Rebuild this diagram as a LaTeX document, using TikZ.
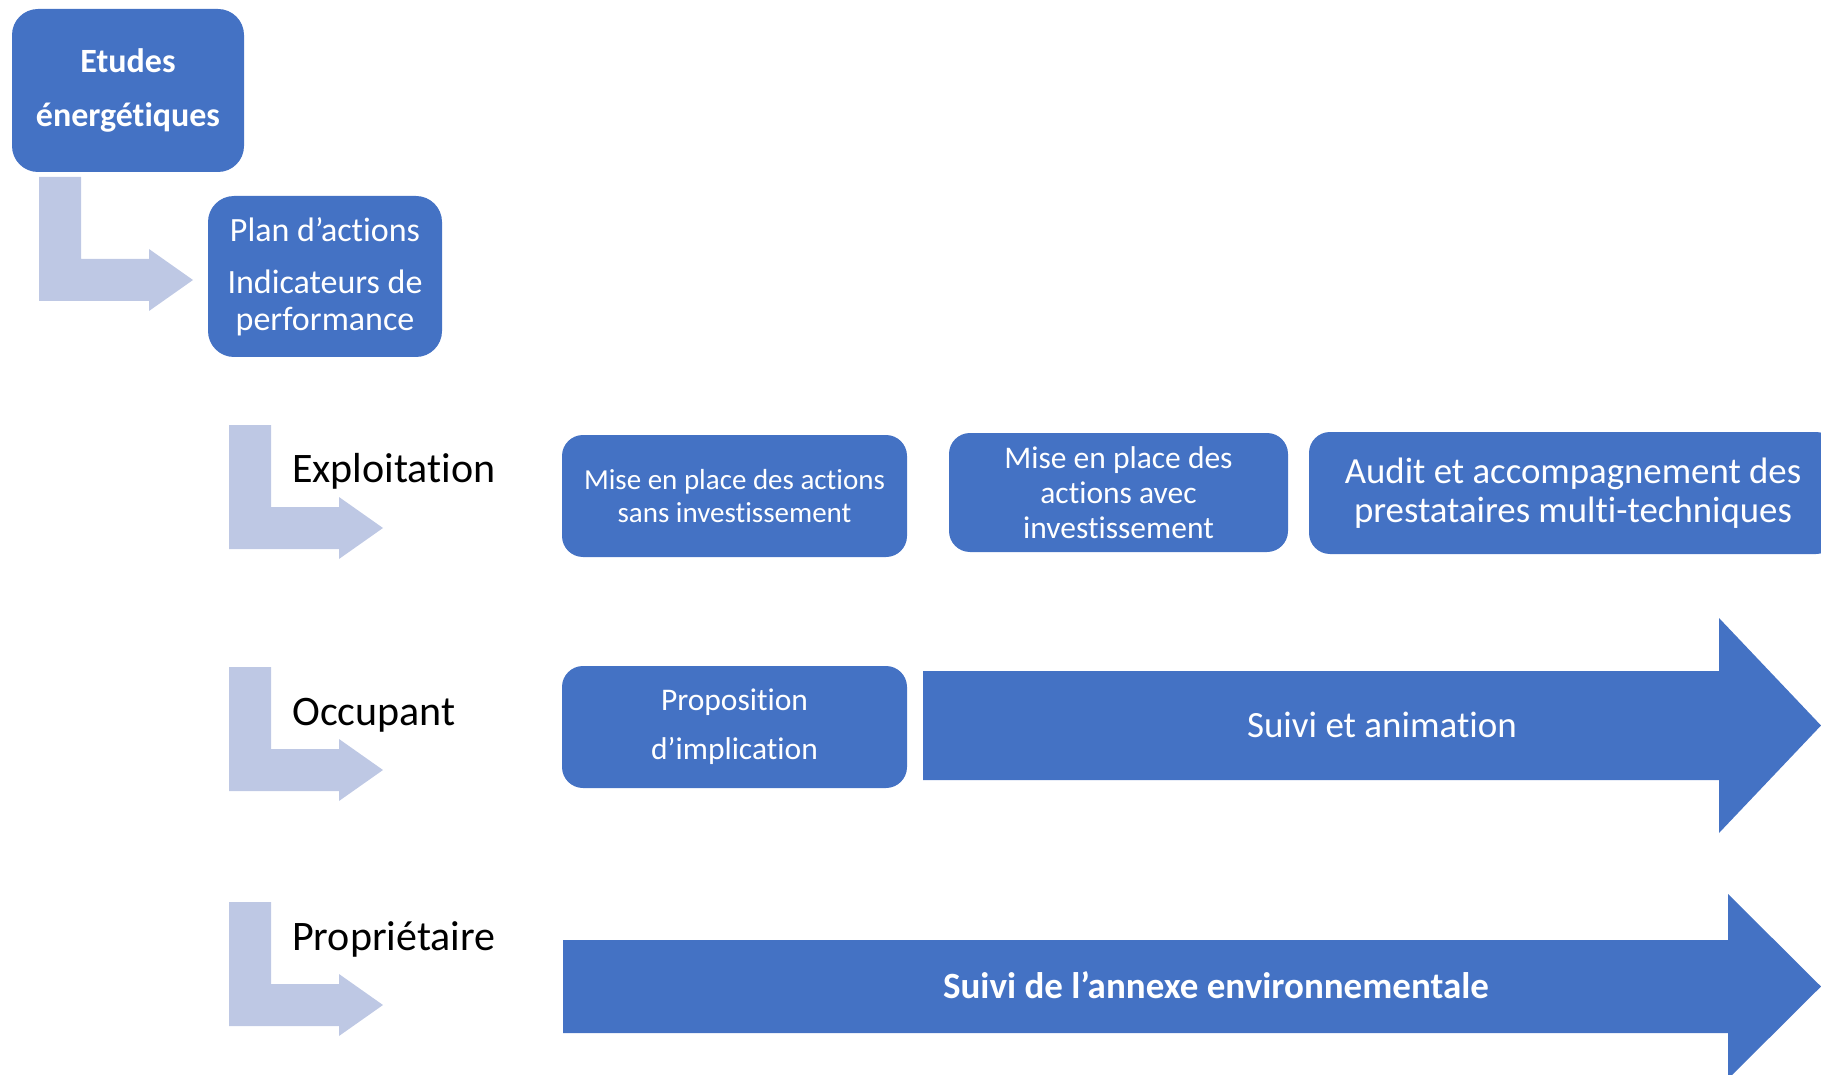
\documentclass[tikz,border=0pt]{standalone}
\usepackage{fontspec}
\setmainfont{Carlito}[Ligatures={TeX,NoCommon}]
\definecolor{boxblue}{RGB}{68,114,196}
\definecolor{lightarr}{RGB}{190,200,228}
\begin{document}
\begin{tikzpicture}[x=1pt,y=-1pt,
  box/.style={fill=boxblue, rounded corners=21pt, text=white, align=center, inner sep=0pt},
  lbl/.style={anchor=base west, inner sep=0pt, text=black, font=\fontsize{42}{50}\selectfont},
  arrtext/.style={anchor=base, inner sep=0pt, text=white},
  bentarrow/.pic={\fill[lightarr] (0,0) -- (42,0) -- (42,82) -- (110,82) -- (110,72) -- (154,103) -- (110,134) -- (110,124) -- (0,124) -- cycle;}
]
\useasboundingbox (0,0) rectangle (1821,1075);
\clip (0,0) rectangle (1821,1075);

% top boxes
\node[box, minimum width=232pt, minimum height=163pt, rounded corners=26pt,
      font=\bfseries\fontsize{34}{54}\selectfont] (etudes) at (128,90.5) {Etudes\\énergétiques};
\node[box, minimum width=234pt, minimum height=161pt, rounded corners=26pt,
      font=\fontsize{34}{37}\selectfont] (plan) at (325,276.5) {Plan d’actions\\[15pt]Indicateurs de\\performance};

% bent arrows
\pic (a0) at (39,177) {bentarrow};
\pic (a1) at (229,425) {bentarrow};
\pic (a2) at (229,667) {bentarrow};
\pic (a3) at (229,902) {bentarrow};

% row labels
\node[lbl] (lexp) at (292,482) {Exploitation};
\node[lbl] (locc) at (292,725) {Occupant};
\node[lbl] (lpro) at (292,950) {Propriétaire};

% Exploitation row
\node[box, minimum width=345pt, minimum height=122pt,
      font=\fontsize{29}{33}\selectfont] (misea) at (734.5,496) {Mise en place des actions\\sans investissement};
\node[box, minimum width=339pt, minimum height=119pt,
      font=\fontsize{31.5}{35}\selectfont] (miseb) at (1118.5,492.5) {Mise en place des\\actions avec\\investissement};
\node[box, minimum width=528pt, minimum height=122pt,
      font=\fontsize{36.8}{39}\selectfont] (audit) at (1573,493) {Audit et accompagnement des\\prestataires multi-techniques};

% Occupant row
\node[box, minimum width=345pt, minimum height=122pt,
      font=\fontsize{31.5}{49}\selectfont] (propo) at (734.5,727) {Proposition\\d’implication};
\fill[boxblue] (923,671) -- (1719,671) -- (1719,618) -- (1821,725.5) -- (1719,833) -- (1719,780) -- (923,780) -- cycle;
\node[arrtext, font=\fontsize{37}{44}\selectfont] (suivi) at (1382,737) {Suivi et animation};

% Proprietaire row
\fill[boxblue] (563,940) -- (1728,940) -- (1728,894) -- (1821,986.5) -- (1728,1079) -- (1728,1033) -- (563,1033) -- cycle;
\node[arrtext, font=\bfseries\fontsize{37}{44}\selectfont] (annexe) at (1216,998) {Suivi de l’annexe environnementale};
\end{tikzpicture}
\end{document}
